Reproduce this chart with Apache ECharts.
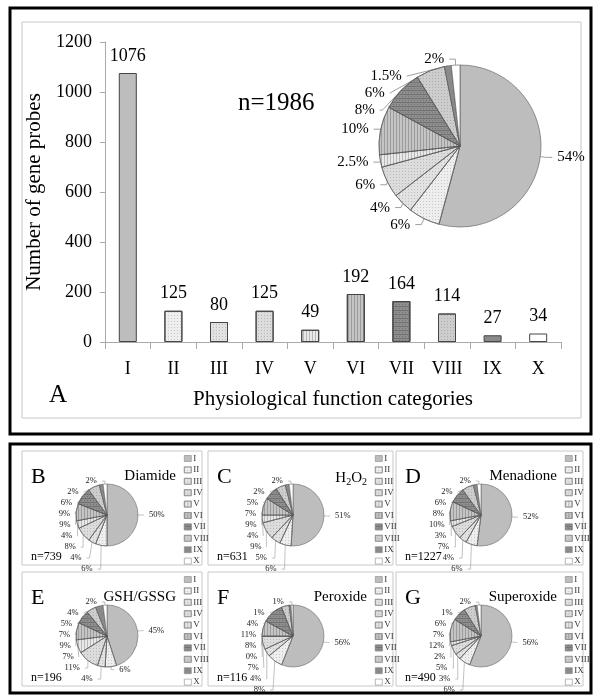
<!DOCTYPE html>
<html><head><meta charset="utf-8">
<script src="https://cdn.jsdelivr.net/npm/echarts@6/dist/echarts.min.js"></script>
<style>html,body{margin:0;padding:0;background:#fff}#c{width:600px;height:700px}</style>
</head><body><div id="c"></div>
<script>
// ---------- data ----------
const categories = ['I','II','III','IV','V','VI','VII','VIII','IX','X'];
const counts = [1076,125,80,125,49,192,164,114,27,34];
const overallLabels = ['54%','6%','4%','6%','2.5%','10%','8%','6%','1.5%','2%'];
const totalN = 1986;

const panelLetters = ['B','C','D','E','F','G'];
const panelTitles = ['Diamide','H{s|2}O{s|2}','Menadione','GSH/GSSG','Peroxide','Superoxide'];
const panelN = [739,631,1227,196,116,490];
const diamide    = [50,6,4,8,4,9,9,6,2,2];
const h2o2       = [51,6,5,9,4,9,7,5,2,2];
const menadione  = [52,6,4,7,3,10,8,6,2,2];
const gshGssg    = [45,6,4,11,7,9,7,5,4,2];
const peroxide   = [56,8,4,7,0,8,11,4,1,1];
const superoxide = [56,6,3,5,2,12,7,6,1,2];
const panelValues = [diamide,h2o2,menadione,gshGssg,peroxide,superoxide];

// ---------- styles ----------
const SERIF = 'Liberation Serif';
const catColors = ['#bdbdbd','#eeeeee','#e2e2e2','#dcdcdc','#e8e8e8','#c4c4c4','#8e8e8e','#cdcdcd','#8a8a8a','#ffffff'];
const dots = {symbol:'rect', symbolSize:1, dashArrayX:[1,2], dashArrayY:[1,2], color:'rgba(0,0,0,0.16)'};
const vstripe = {symbol:'rect', symbolSize:1, dashArrayX:[1,2], dashArrayY:[8,0], color:'rgba(0,0,0,0.2)'};
const hatch = {symbol:'rect', symbolSize:1, dashArrayX:[[3,0],[1,2]], dashArrayY:[1,1], color:'rgba(0,0,0,0.2)'};
const catDecals = [null, dots, dots, dots, vstripe, vstripe, hatch, dots, null, null];

function itemStyleFor(i){
  const s = {color: catColors[i]};
  if (catDecals[i]) s.decal = catDecals[i];
  return s;
}

// panel geometry
const colX = [22, 208, 396];
const colW = [180, 185, 187];
const rowY = [451, 572];
const rowH = 114;

const series = [];
series.push({
  type:'bar', name:'count', xAxisIndex:0, yAxisIndex:0, barWidth:18,
  data: counts.map((v,i)=>({value:v, itemStyle:itemStyleFor(i)})),
  itemStyle:{borderColor:'#444', borderWidth:1},
  label:{show:true, position:'top', distance:8, fontFamily:SERIF, fontSize:18, color:'#000'},
  z:3
});
series.push({
  type:'pie', center:[460,146], radius:81, startAngle:90, clockwise:true,
  data: categories.map((c,i)=>({name:c, value:counts[i], itemStyle:itemStyleFor(i)})),
  itemStyle:{borderColor:'#555', borderWidth:0.6},
  label:{show:true, formatter:p=>overallLabels[p.dataIndex], fontFamily:SERIF, fontSize:15, color:'#000'},
  labelLine:{show:true, length:6, length2:6, lineStyle:{color:'#888', width:0.8}},
  emphasis:{disabled:true}, silent:true
});

const legends = [];
const titles = [
  {text:'n='+totalN, left:233, top:86, textStyle:{fontFamily:SERIF, fontSize:25, fontWeight:'normal', color:'#000'}},
  {text:'A', left:44, top:378, textStyle:{fontFamily:SERIF, fontSize:25, fontWeight:'normal', color:'#000'}}
];
const graphics = [
  {type:'rect', shape:{x:10,y:8,width:581,height:426}, style:{fill:'none', stroke:'#000', lineWidth:3}, z:0},
  {type:'rect', shape:{x:22,y:22,width:559,height:396}, style:{fill:'none', stroke:'#c8c8c8', lineWidth:1}, z:0},
  {type:'rect', shape:{x:10,y:444,width:581,height:249}, style:{fill:'none', stroke:'#000', lineWidth:3}, z:0}
];

panelValues.forEach((vals,k)=>{
  const col = k%3, row = Math.floor(k/3);
  const x0 = colX[col], y0 = rowY[row], w = colW[col];
  graphics.push({type:'rect', shape:{x:x0,y:y0,width:w,height:rowH}, style:{fill:'none', stroke:'#c8c8c8', lineWidth:1}, z:0});
  const cx = x0 + 85, cy = y0 + 64;
  series.push({
    type:'pie', center:[cx,cy], radius:31, startAngle:90, clockwise:true,
    data: categories.map((c,i)=>({name:c, value:vals[i], itemStyle:itemStyleFor(i)})),
    itemStyle:{borderColor:'#555', borderWidth:0.5},
    label:{show:true, formatter:'{c}%', fontFamily:SERIF, fontSize:8.5, lineHeight:8, color:'#222'},
    labelLine:{show:true, length:3, length2:3, lineStyle:{color:'#999', width:0.6}},
    emphasis:{disabled:true}, silent:true
  });
  legends.push({
    data:categories, orient:'vertical', left:x0+w-18, top:y0+3,
    itemWidth:7, itemHeight:6, itemGap:2.4, icon:'rect', padding:0, selectedMode:false,
    itemStyle:{borderColor:'#888', borderWidth:0.6},
    textStyle:{fontFamily:SERIF, fontSize:9, color:'#333', padding:[0,0,0,-3]}
  });
  titles.push({text:panelLetters[k], left:x0+4, top:y0+10,
    textStyle:{fontFamily:SERIF, fontSize:22, fontWeight:'normal', color:'#000'}});
  titles.push({text:panelTitles[k], right:600-(x0+w-21), top:y0+13,
    textStyle:{fontFamily:SERIF, fontSize:15, fontWeight:'normal', color:'#000',
      rich:{s:{fontFamily:SERIF, fontSize:10, verticalAlign:'bottom', padding:[8,0,0,0]}}}});
  titles.push({text:'n='+panelN[k], left:x0+4, top:y0+95,
    textStyle:{fontFamily:SERIF, fontSize:12, fontWeight:'normal', color:'#000'}});
});

const option = {
  animation:false,
  backgroundColor:'#fff',
  title:titles,
  legend:legends,
  graphic:graphics,
  grid:{left:105, right:39, top:42, bottom:358},
  xAxis:{type:'category', data:categories,
    axisLine:{lineStyle:{color:'#aaa'}},
    axisTick:{show:true, length:7, lineStyle:{color:'#aaa'}},
    axisLabel:{fontFamily:SERIF, fontSize:18, color:'#000', margin:18},
    name:'Physiological function categories', nameLocation:'middle', nameGap:47,
    nameTextStyle:{fontFamily:SERIF, fontSize:21, color:'#000'}},
  yAxis:{type:'value', min:0, max:1200, interval:200,
    axisLine:{show:true, lineStyle:{color:'#aaa'}},
    axisTick:{show:true, length:5, lineStyle:{color:'#aaa'}},
    splitLine:{show:false},
    axisLabel:{fontFamily:SERIF, fontSize:18, color:'#000', margin:13, formatter:v=>String(v)},
    name:'Number of gene probes', nameLocation:'middle', nameGap:44,
    nameTextStyle:{fontFamily:SERIF, fontSize:21, color:'#000'}},
  series:series
};
const chart = echarts.init(document.getElementById('c'), null, {renderer:'canvas'});
chart.setOption(option);
</script></body></html>
